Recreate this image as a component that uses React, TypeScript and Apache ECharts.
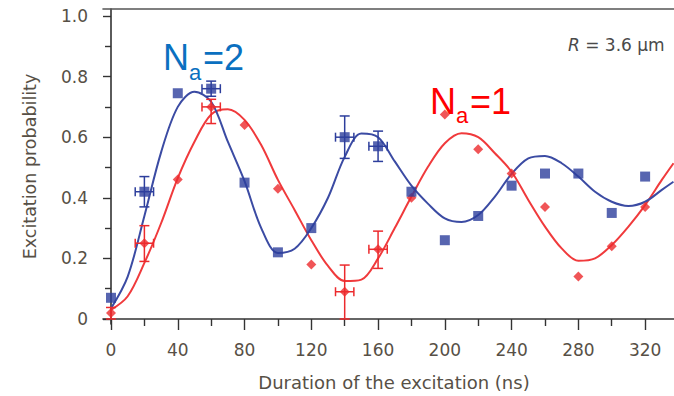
import React, { useEffect, useRef } from "react";
import * as echarts from "echarts";

// ---- Data ----
const timesNs = [0, 20, 40, 60, 80, 100, 120, 140, 160, 180, 200, 220, 240, 260, 280, 300, 320];
const twoAtomValues = [0.07, 0.42, 0.745, 0.76, 0.45, 0.22, 0.30, 0.60, 0.57, 0.42, 0.26, 0.34, 0.44, 0.48, 0.48, 0.35, 0.47];
const oneAtomValues = [0.02, 0.25, 0.46, 0.70, 0.64, 0.43, 0.18, 0.09, 0.23, 0.40, 0.675, 0.56, 0.48, 0.37, 0.14, 0.24, 0.37];

// error bars: time, low, high, horizontal half-width (ns)
const twoAtomErrTimes = [20, 60, 140, 160];
const twoAtomErrLow = [0.37, 0.735, 0.53, 0.52];
const twoAtomErrHigh = [0.47, 0.785, 0.67, 0.62];
const twoAtomErrDt = [5.5, 5.5, 5.5, 5.5];

const oneAtomErrTimes = [0, 20, 60, 140, 160];
const oneAtomErrLow = [0.0, 0.19, 0.645, 0.0, 0.167];
const oneAtomErrHigh = [0.038, 0.308, 0.725, 0.178, 0.29];
const oneAtomErrDt = [0, 5.5, 5.5, 5.5, 5.5];

// fitted curves
const fitTimes = [0, 10, 20, 30, 40, 50, 60, 70, 80, 90, 100, 110, 120, 130, 140, 150, 160, 170, 180, 190, 200, 210, 220, 230, 240, 250, 260, 270, 280, 290, 300, 310, 320, 330, 337];
const twoAtomFit = [0.035, 0.14, 0.34, 0.55, 0.70, 0.75, 0.717, 0.585, 0.455, 0.30, 0.218, 0.232, 0.30, 0.40, 0.535, 0.612, 0.60, 0.52, 0.44, 0.38, 0.332, 0.32, 0.343, 0.404, 0.479, 0.53, 0.538, 0.514, 0.47, 0.42, 0.387, 0.373, 0.387, 0.426, 0.453];
const oneAtomFit = [0.03, 0.075, 0.185, 0.316, 0.465, 0.585, 0.675, 0.692, 0.657, 0.574, 0.459, 0.36, 0.26, 0.175, 0.125, 0.13, 0.2, 0.3, 0.404, 0.503, 0.58, 0.613, 0.60, 0.547, 0.486, 0.393, 0.305, 0.233, 0.192, 0.2, 0.244, 0.305, 0.376, 0.459, 0.514];

const xMajorTicks = [0, 40, 80, 120, 160, 200, 240, 280, 320];
const xMinorTicks = [20, 60, 100, 140, 180, 220, 260, 300];
const yMajorTicks = [0, 0.2, 0.4, 0.6, 0.8, 1.0];
const yMinorTicks = [0.1, 0.3, 0.5, 0.7, 0.9];

const BLUE = "#2d3e9c";
const BLUE_LINE = "#3b4ba3";
const RED = "#ec2a2d";
const RED_LINE = "#f03a3c";
const AXIS = "#333333";
const LABEL = "#575046";
const FONT = "'DejaVu Sans', sans-serif";
const LABEL_FONT = "'Liberation Sans', Arial, sans-serif";

const X_MIN = -4.8;
const X_MAX = 337.3;
const Y_MIN = -0.0165;
const Y_MAX = 1.023;

function errData(times: number[], values: number[], low: number[], high: number[], dt: number[]) {
  return times.map((t, i) => {
    const idx = timesNs.indexOf(t);
    return [t, values[idx], low[i], high[i], dt[i]];
  });
}

function makeErrRender(color: string) {
  return (params: any, api: any) => {
    const t = api.value(0);
    const v = api.value(1);
    const lo = api.coord([t, api.value(2)]);
    const hi = api.coord([t, api.value(3)]);
    const dt = api.value(4);
    const style = { stroke: color, lineWidth: 1.5, fill: "none" };
    const cap = 5;
    const children: any[] = [
      { type: "line", shape: { x1: lo[0], y1: lo[1], x2: hi[0], y2: hi[1] }, style },
      { type: "line", shape: { x1: lo[0] - cap, y1: lo[1], x2: lo[0] + cap, y2: lo[1] }, style },
      { type: "line", shape: { x1: hi[0] - cap, y1: hi[1], x2: hi[0] + cap, y2: hi[1] }, style },
    ];
    if (dt > 0) {
      const l = api.coord([t - dt, v]);
      const r = api.coord([t + dt, v]);
      const hc = 4.5;
      children.push(
        { type: "line", shape: { x1: l[0], y1: l[1], x2: r[0], y2: r[1] }, style },
        { type: "line", shape: { x1: l[0], y1: l[1] - hc, x2: l[0], y2: l[1] + hc }, style },
        { type: "line", shape: { x1: r[0], y1: r[1] - hc, x2: r[0], y2: r[1] + hc }, style }
      );
    }
    return { type: "group", children };
  };
}

export default function App() {
  const ref = useRef<HTMLDivElement>(null);

  useEffect(() => {
    document.body.style.margin = "0";
    const chart = echarts.init(ref.current!, null, { renderer: "svg" });

    const baseX = {
      type: "value",
      min: X_MIN,
      max: X_MAX,
      splitLine: { show: false },
    };
    const baseY = {
      type: "value",
      min: Y_MIN,
      max: Y_MAX,
      splitLine: { show: false },
    };

    chart.setOption({
      animation: false,
      backgroundColor: "#ffffff",
      grid: { left: 103, right: 0, top: 9, bottom: 72, containLabel: false },
      xAxis: [
        {
          ...baseX,
          position: "bottom",
          axisLine: { show: true, lineStyle: { color: AXIS, width: 1.6 } },
          axisTick: { show: true, customValues: xMajorTicks, length: 11, lineStyle: { color: AXIS, width: 1.4 } },
          axisLabel: {
            show: true,
            customValues: xMajorTicks,
            margin: 17,
            color: LABEL,
            fontSize: 17,
            fontFamily: FONT,
          },
          name: "Duration of the excitation (ns)",
          nameLocation: "middle",
          nameGap: 49,
          nameTextStyle: { color: LABEL, fontSize: 18, fontFamily: FONT, padding: [0, 0, 0, 11] },
        },
        {
          ...baseX,
          position: "bottom",
          axisLine: { show: false },
          axisTick: { show: true, customValues: xMinorTicks, length: 7, lineStyle: { color: AXIS, width: 1.4 } },
          axisLabel: { show: false },
        },
        {
          ...baseX,
          position: "top",
          axisLine: { show: true, lineStyle: { color: "#555555", width: 1.6 } },
          axisTick: { show: false },
          axisLabel: { show: false },
        },
      ],
      yAxis: [
        {
          ...baseY,
          position: "left",
          axisLine: { show: true, lineStyle: { color: AXIS, width: 1.6 } },
          axisTick: { show: true, customValues: yMajorTicks, length: 8, lineStyle: { color: AXIS, width: 1.4 } },
          axisLabel: {
            show: true,
            customValues: yMajorTicks,
            margin: 15,
            color: LABEL,
            fontSize: 17,
            fontFamily: FONT,
            formatter: (v: number) => (v === 0 ? "0" : v.toFixed(1)),
          },
          name: "Excitation probability",
          nameLocation: "middle",
          nameGap: 64,
          nameTextStyle: { color: LABEL, fontSize: 17.5, fontFamily: FONT },
        },
        {
          ...baseY,
          position: "left",
          axisLine: { show: false },
          axisTick: { show: true, customValues: yMinorTicks, length: 6, lineStyle: { color: AXIS, width: 1.4 } },
          axisLabel: { show: false },
        },
      ],
      series: [
        {
          type: "line",
          name: "fit1",
          xAxisIndex: 0,
          yAxisIndex: 0,
          data: fitTimes.map((t, i) => [t, oneAtomFit[i]]),
          smooth: 0.33,
          showSymbol: false,
          lineStyle: { color: RED_LINE, width: 2 },
          z: 2,
        },
        {
          type: "line",
          name: "fit2",
          xAxisIndex: 0,
          yAxisIndex: 0,
          data: fitTimes.map((t, i) => [t, twoAtomFit[i]]),
          smooth: 0.33,
          showSymbol: false,
          lineStyle: { color: BLUE_LINE, width: 2 },
          z: 2,
        },
        {
          type: "custom",
          xAxisIndex: 0,
          yAxisIndex: 0,
          renderItem: makeErrRender(RED),
          data: errData(oneAtomErrTimes, oneAtomValues, oneAtomErrLow, oneAtomErrHigh, oneAtomErrDt),
          z: 3,
        },
        {
          type: "custom",
          xAxisIndex: 0,
          yAxisIndex: 0,
          renderItem: makeErrRender(BLUE),
          data: errData(twoAtomErrTimes, twoAtomValues, twoAtomErrLow, twoAtomErrHigh, twoAtomErrDt),
          z: 3,
        },
        {
          type: "scatter",
          name: "Na=1",
          xAxisIndex: 0,
          yAxisIndex: 0,
          symbol: "diamond",
          symbolSize: 10,
          itemStyle: { color: RED },
          data: timesNs.map((t, i) => [t, oneAtomValues[i]]),
          z: 4,
        },
        {
          type: "scatter",
          name: "Na=2",
          xAxisIndex: 0,
          yAxisIndex: 0,
          symbol: "rect",
          symbolSize: 10,
          itemStyle: { color: BLUE },
          data: timesNs.map((t, i) => [t, twoAtomValues[i]]),
          z: 5,
        },
      ],
      graphic: [
        {
          type: "text",
          x: 568,
          y: 45,
          style: {
            text: "{i|R} = 3.6 µm",
            fill: "#4a4a4a",
            fontSize: 17,
            fontFamily: FONT,
            verticalAlign: "middle",
            align: "left",
            rich: { i: { fontStyle: "italic", fontSize: 17, fontFamily: FONT, fill: "#4a4a4a" } },
          },
        },
        // N_a = 2 label
        { type: "text", x: 163, y: 57.5, style: { text: "N", fill: "#0a70c0", fontSize: 36, fontFamily: LABEL_FONT, verticalAlign: "middle", align: "left" } },
        { type: "text", x: 189, y: 72.4, style: { text: "a", fill: "#0a70c0", fontSize: 22, fontFamily: LABEL_FONT, verticalAlign: "middle", align: "left" } },
        { type: "text", x: 203, y: 57.5, style: { text: "=2", fill: "#0a70c0", fontSize: 36, fontFamily: LABEL_FONT, verticalAlign: "middle", align: "left" } },
        // N_a = 1 label
        { type: "text", x: 430, y: 101.5, style: { text: "N", fill: "#ff0000", fontSize: 36, fontFamily: LABEL_FONT, verticalAlign: "middle", align: "left" } },
        { type: "text", x: 456, y: 115.8, style: { text: "a", fill: "#ff0000", fontSize: 22, fontFamily: LABEL_FONT, verticalAlign: "middle", align: "left" } },
        { type: "text", x: 470, y: 101.5, style: { text: "=1", fill: "#ff0000", fontSize: 36, fontFamily: LABEL_FONT, verticalAlign: "middle", align: "left" } },
      ],
    });

    return () => {
      chart.dispose();
    };
  }, []);

  return (
    <div
      ref={ref}
      style={{ position: "absolute", left: 0, top: 0, width: 674, height: 396, background: "#fff" }}
    />
  );
}
